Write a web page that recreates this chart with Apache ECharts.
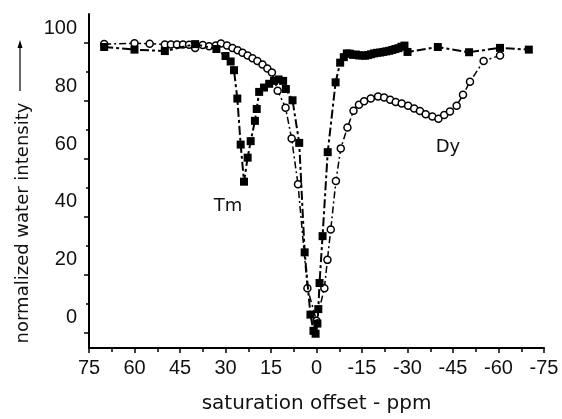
<!DOCTYPE html>
<html>
<head>
<meta charset="utf-8">
<script src="https://cdn.jsdelivr.net/npm/echarts@6/dist/echarts.min.js"></script>
<style>html,body{margin:0;padding:0;background:#fff}#c{width:562px;height:419px}</style>
</head>
<body>
<div id="c"></div>
<script>
// Tm series (filled squares)
const tmX = [70, 60, 50, 40, 33, 30, 28.3, 27.2, 26.1, 25.0, 23.9, 22.7, 21.7, 20.3, 19.7, 18.9, 17.3, 15.6, 14.0, 12.5, 11.0, 10.1, 7.9, 5.7, 3.9, 2.0, 1.0, 0.3, -0.3, -0.6, -1.0, -2.0, -3.7, -6.3, -7.8, -9, -10, -11, -12, -13, -14, -15, -16, -17, -18, -19, -20, -21, -22, -23, -24, -25, -26, -27, -28, -29, -30, -40, -50.3, -60.5, -70];
const tmY = [98.5, 97.6, 97.1, 99.5, 97.8, 95.4, 93.5, 90.5, 80.7, 64.8, 52.0, 60.3, 66.0, 73.0, 77.1, 83.0, 84.5, 85.8, 86.8, 87.3, 86.8, 84.0, 80.1, 65.4, 27.6, 6.1, 0.5, -0.5, 3.0, 8.0, 17.0, 33.2, 62.2, 86.3, 93.1, 95.0, 96.3, 96.2, 95.8, 95.9, 95.6, 95.6, 95.5, 95.7, 96.0, 96.3, 96.5, 96.6, 96.8, 97.0, 97.2, 97.5, 97.8, 98.1, 98.6, 99.0, 96.8, 98.5, 96.7, 98.2, 97.6];
// Dy series (open circles)
const dyX = [70, 60, 55, 50, 48, 46, 44, 42, 40, 37.5, 35.4, 33.2, 31.5, 29.5, 27.7, 26, 24.4, 22.7, 21.1, 19.5, 17.8, 16.2, 14.7, 12.8, 10.2, 8.2, 6.1, 3.0, 0, -2.6, -3.6, -4.7, -6.4, -8.0, -10.2, -12.2, -14.0, -15.7, -17.9, -20.3, -22.3, -24.3, -26.1, -28.1, -30.2, -32.2, -34.1, -36.0, -38.2, -40.2, -42.1, -44.0, -46.2, -48.3, -50.6, -55.1, -60.5];
const dyY = [99.5, 99.8, 99.6, 99.4, 99.4, 99.4, 99.4, 99.3, 98.2, 99.2, 98.8, 99.0, 99.7, 99.0, 98.2, 97.4, 96.5, 95.6, 94.6, 93.7, 92.5, 91.1, 89.7, 83.4, 77.5, 66.9, 51.1, 15.2, 4, 15.2, 25.0, 35.5, 52.2, 63.5, 70.7, 76.5, 78.6, 79.8, 80.7, 81.4, 81.1, 80.3, 79.5, 79.0, 78.2, 77.3, 76.4, 75.3, 74.5, 73.7, 75.0, 76.2, 78.2, 82.0, 86.5, 93.7, 95.6];
// y ticks (major/minor) and tick-label texts; labels sit 5 units above their ticks in the original
const yMajorTicks = [0, 20, 40, 60, 80, 100];
const yMinorTicks = [10, 30, 50, 70, 90];
const yLabelTexts = ['0', '20', '40', '60', '80', '100'];
const yLabelShift = 5;

const zip = (xs, ys) => xs.map((x, i) => [x, ys[i]]);
const tickFont = 'Liberation Sans, Arial, sans-serif';
const titleFont = 'DejaVu Sans, sans-serif';
const ink = '#111';
const yLabelPos = yMajorTicks.map(v => v + yLabelShift);

const chart = echarts.init(document.getElementById('c'), null, {renderer: 'canvas'});
chart.setOption({
  animation: false,
  backgroundColor: '#fff',
  grid: {left: 89, right: 18, top: 14, bottom: 65},
  xAxis: {
    type: 'value', min: -75, max: 75, interval: 15, inverse: true,
    axisLine: {onZero: false, lineStyle: {color: '#000', width: 2}},
    axisTick: {length: 5, lineStyle: {color: '#000', width: 1.5}},
    minorTick: {show: true, splitNumber: 2, length: 4, lineStyle: {color: '#000', width: 1.5}},
    splitLine: {show: false},
    axisLabel: {color: ink, fontSize: 20, fontFamily: tickFont, margin: 10},
    name: 'saturation offset - ppm', nameLocation: 'middle', nameGap: 46,
    nameTextStyle: {color: ink, fontSize: 20, fontFamily: titleFont}
  },
  yAxis: [{
    type: 'value', min: -5.43, max: 109.9,
    axisLine: {show: true, onZero: false, lineStyle: {color: '#000', width: 2}},
    axisTick: {show: true, length: 5, customValues: yMajorTicks, lineStyle: {color: '#000', width: 1.5}},
    splitLine: {show: false},
    axisLabel: {customValues: yLabelPos, color: ink, fontSize: 20, fontFamily: tickFont, margin: 12,
      formatter: v => yLabelTexts[yLabelPos.indexOf(v)] ?? ''}
  }, {
    type: 'value', min: -5.43, max: 109.9, position: 'left',
    axisLine: {show: false, onZero: false},
    axisTick: {show: true, length: 3, customValues: yMinorTicks, lineStyle: {color: '#000', width: 1.5}},
    axisLabel: {show: false},
    splitLine: {show: false}
  }],
  series: [{
    name: 'Dy', type: 'line', data: zip(dyX, dyY), z: 2,
    symbol: 'circle', symbolSize: 7,
    itemStyle: {color: '#fff', borderColor: '#000', borderWidth: 1.5},
    lineStyle: {color: '#000', width: 1.5, type: [7, 3, 2, 3]}
  }, {
    name: 'Tm', type: 'line', data: zip(tmX, tmY), z: 3,
    symbol: 'rect', symbolSize: 8,
    itemStyle: {color: '#000'},
    lineStyle: {color: '#000', width: 2, type: [9, 3, 3, 3]}
  }],
  graphic: [
    {type: 'text', x: 23, y: 223, rotation: Math.PI / 2,
      style: {text: 'normalized water intensity', fill: ink, font: '18px DejaVu Sans, sans-serif', align: 'center', verticalAlign: 'middle'}},
    {type: 'line', shape: {x1: 20, y1: 91, x2: 20, y2: 46}, style: {stroke: '#000', lineWidth: 1.2}},
    {type: 'polygon', shape: {points: [[20, 40], [17.5, 48], [22.5, 48]]}, style: {fill: '#000'}},
    {type: 'text', x: 228, y: 206, style: {text: 'Tm', fill: ink, font: '18px DejaVu Sans, sans-serif', align: 'center', verticalAlign: 'middle'}},
    {type: 'text', x: 448, y: 147, style: {text: 'Dy', fill: ink, font: '18px DejaVu Sans, sans-serif', align: 'center', verticalAlign: 'middle'}}
  ]
});
</script>
</body>
</html>
